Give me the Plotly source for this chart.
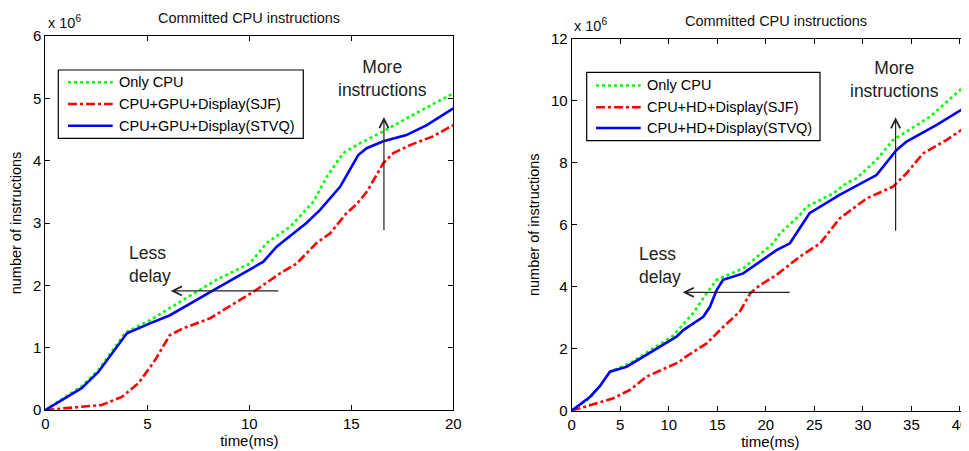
import plotly.graph_objects as go

W, H = 969, 451          # browser window
OFF = 8                  # default body margin of the page

# ---------------- data (values in units of 1e6 instructions) ----------------
# Left panel: CPU + GPU + Display
left_cpu_t = [0, 1.78, 2.6, 3.95, 4.1, 5.13, 6.78, 8.4, 10.03, 10.85, 12.0, 13.14, 13.8, 14.6, 15.26, 16.57, 17.88, 20]
left_cpu_v = [0, 0.38, 0.64, 1.25, 1.27, 1.44, 1.77, 2.09, 2.35, 2.68, 2.94, 3.34, 3.74, 4.12, 4.25, 4.47, 4.71, 5.08]

left_sjf_t = [0, 1.05, 1.86, 2.76, 3.75, 4.57, 5.38, 6.1, 6.76, 8.07, 10.36, 11.5, 12.32, 13.3, 13.95, 14.77, 15.26, 15.8, 16.57, 17.06, 17.88, 19.0, 20]
left_sjf_v = [0, 0.03, 0.05, 0.08, 0.21, 0.43, 0.8, 1.2, 1.31, 1.47, 1.93, 2.19, 2.35, 2.68, 2.83, 3.16, 3.3, 3.52, 3.96, 4.12, 4.25, 4.39, 4.57]

left_stvq_t = [0, 1.78, 2.6, 4.0, 5.13, 6.11, 8.4, 10.69, 11.34, 12.8, 13.47, 14.45, 15.34, 15.75, 16.57, 17.7, 18.7, 20]
left_stvq_v = [0, 0.35, 0.61, 1.23, 1.39, 1.52, 1.95, 2.38, 2.62, 3.0, 3.21, 3.58, 4.09, 4.2, 4.31, 4.41, 4.57, 4.84]

# Right panel: CPU + HD + Display
right_cpu_t = [0, 1.9, 2.92, 3.95, 6.0, 7.72, 10.46, 12.5, 13.9, 14.93, 16.0, 17.7, 20.76, 21.45, 23.5, 24.2, 26.95, 28.3, 29.36, 31.4, 33.1, 36.9, 40.93]
right_cpu_v = [0, 0.42, 0.8, 1.26, 1.53, 1.88, 2.42, 3.14, 3.79, 4.22, 4.36, 4.6, 5.4, 5.72, 6.31, 6.58, 7.01, 7.34, 7.5, 8.09, 8.73, 9.48, 10.6]

right_sjf_t = [0, 0.85, 4.28, 6.0, 7.72, 11.15, 11.5, 13.9, 15.6, 17.3, 18.4, 19.4, 21.1, 23.5, 25.6, 27.6, 30.4, 33.1, 34.5, 36.2, 38.6, 40.93]
right_sjf_v = [0, 0.08, 0.4, 0.67, 1.1, 1.58, 1.69, 2.17, 2.7, 3.19, 3.79, 4.05, 4.38, 4.97, 5.4, 6.2, 6.85, 7.23, 7.66, 8.3, 8.73, 9.22]

right_stvq_t = [0, 1.9, 2.92, 3.94, 5.66, 7.72, 10.8, 11.5, 13.55, 14.24, 14.93, 15.6, 17.67, 21.1, 22.48, 24.5, 27.6, 31.4, 33.47, 34.5, 37.6, 40.93]
right_stvq_v = [0, 0.45, 0.8, 1.26, 1.42, 1.82, 2.39, 2.6, 3.03, 3.35, 3.89, 4.22, 4.43, 5.18, 5.4, 6.37, 6.96, 7.6, 8.41, 8.68, 9.22, 9.86]

left_names = ["Only CPU", "CPU+GPU+Display(SJF)", "CPU+GPU+Display(STVQ)"]
right_names = ["Only CPU", "CPU+HD+Display(SJF)", "CPU+HD+Display(STVQ)"]

title_text = "Committed CPU instructions"
x_title = "time(ms)"
y_title = "number of instructions"
scale_text = "x 10<sup>6</sup>"

left_xticks = [0, 5, 10, 15, 20]
left_yticks = [0, 1, 2, 3, 4, 5, 6]
right_xticks = [0, 5, 10, 15, 20, 25, 30, 35, 40]
right_yticks = [0, 2, 4, 6, 8, 10, 12]

# ---------------- styles ----------------
FONT = "Liberation Sans, Arial, Helvetica, sans-serif"
GREEN, RED, BLUE = "#00ff00", "#ff0000", "#0000ff"
styles = [
    dict(color=GREEN, width=2.6, dash="3px,3px"),
    dict(color=RED, width=2.6, dash="9px,3px,3px,3px"),
    dict(color=BLUE, width=2.6, dash="solid"),
]

FW, FH = W - OFF, H - OFF


def px(x, y):
    """window pixel -> paper fraction"""
    return (x - OFF) / FW, 1 - (y - OFF) / FH


fig = go.Figure()

left_series = [(left_cpu_t, left_cpu_v), (left_sjf_t, left_sjf_v), (left_stvq_t, left_stvq_v)]
right_series = [(right_cpu_t, right_cpu_v), (right_sjf_t, right_sjf_v), (right_stvq_t, right_stvq_v)]

for (t, v), name, st in zip(left_series, left_names, styles):
    fig.add_trace(go.Scatter(x=t, y=v, name=name, mode="lines", line=st,
                             xaxis="x", yaxis="y", showlegend=False))
for (t, v), name, st in zip(right_series, right_names, styles):
    fig.add_trace(go.Scatter(x=t, y=v, name=name, mode="lines", line=st,
                             xaxis="x2", yaxis="y2", showlegend=False))

axis_common = dict(
    showgrid=False, zeroline=False, showline=True, linecolor="black", linewidth=1,
    ticks="inside", ticklen=5, tickcolor="black", tickwidth=1, automargin=False,
    tickfont=dict(family=FONT, size=15, color="black"),
)

lx0, _ = px(45.3, 0)
lx1, _ = px(453.3, 0)
rx0, _ = px(571.7, 0)
_, lyb = px(0, 410)
_, lyt = px(0, 36)
_, ryb = px(0, 410.7)
_, ryt = px(0, 38.7)

fig.update_layout(
    width=FW, height=FH,
    margin=dict(l=0, r=0, t=0, b=0, autoexpand=False),
    paper_bgcolor="white", plot_bgcolor="white",
    font=dict(family=FONT, color="black"),
    xaxis=dict(domain=[lx0, lx1], range=[0, 20], tickvals=left_xticks, mirror="ticks",
               anchor="y", title=dict(text=x_title, font=dict(size=15), standoff=2), **axis_common),
    yaxis=dict(domain=[lyb, lyt], range=[0, 6], tickvals=left_yticks, mirror="ticks",
               anchor="x", title=dict(text=y_title, font=dict(size=14.5), standoff=7), **axis_common),
    xaxis2=dict(domain=[rx0, 1.0], range=[0, 40.93], tickvals=right_xticks, mirror="ticks",
                anchor="y2", title=dict(text=x_title, font=dict(size=15), standoff=2), **axis_common),
    yaxis2=dict(domain=[ryb, ryt], range=[0, 12], tickvals=right_yticks, mirror=False,
                anchor="x2", title=dict(text=y_title, font=dict(size=14.5), standoff=7), **axis_common),
)

annotations = []
shapes = []

# titles and scale labels
for cx, cy in [(249, 18), (775.7, 21)]:
    x, y = px(cx, cy)
    annotations.append(dict(text=title_text, x=x, y=y, xref="paper", yref="paper",
                            xanchor="center", yanchor="middle",
                            showarrow=False, font=dict(size=14.5, family=FONT, color="#111")))
for lx_, ly_ in [(46, 22), (571.5, 25)]:
    x, y = px(lx_, ly_)
    annotations.append(dict(text=scale_text, x=x, y=y, xref="paper", yref="paper",
                            xanchor="left", yanchor="middle",
                            showarrow=False, font=dict(size=14.5, family=FONT, color="#111")))

# manual legends
legend_specs = [
    dict(box=(58.3, 70, 303.3, 138.3), line=(68, 112.7), text_x=117, rows=[82.3, 104, 125.7], names=left_names),
    dict(box=(586.7, 72.3, 820, 140.7), line=(596, 640.7), text_x=645, rows=[85.5, 107.3, 128], names=right_names),
]
for spec in legend_specs:
    x0, y0 = px(spec["box"][0], spec["box"][1])
    x1, y1 = px(spec["box"][2], spec["box"][3])
    shapes.append(dict(type="rect", xref="paper", yref="paper", x0=x0, y0=y1, x1=x1, y1=y0,
                       line=dict(color="black", width=1.2), fillcolor="white", layer="above"))
    for row, name, st in zip(spec["rows"], spec["names"], styles):
        a0, b0 = px(spec["line"][0], row)
        a1, _ = px(spec["line"][1], row)
        shapes.append(dict(type="line", xref="paper", yref="paper", x0=a0, y0=b0, x1=a1, y1=b0,
                           line=st, layer="above"))
        tx, ty = px(spec["text_x"], row)
        annotations.append(dict(text=name, x=tx, y=ty, xref="paper", yref="paper", xanchor="left",
                                yanchor="middle", showarrow=False,
                                font=dict(size=14.5, family=FONT, color="black")))

# arrows and texts (data coordinates)
ARROW = "#222222"
arrow_specs = [
    # (xref, yref, head_x, head_y, tail_x, tail_y)
    ("x", "y", 16.6, 4.70, 16.6, 2.86),
    ("x", "y", 6.15, 1.91, 11.5, 1.91),
    ("x2", "y2", 33.37, 9.47, 33.37, 5.76),
    ("x2", "y2", 11.43, 3.82, 22.6, 3.82),
]
for xr, yr, hx, hy, tx, ty in arrow_specs:
    annotations.append(dict(x=hx, y=hy, ax=tx, ay=ty, xref=xr, yref=yr, axref=xr, ayref=yr,
                            text="", showarrow=True, arrowhead=5, arrowsize=1.5, arrowwidth=1.2,
                            arrowcolor=ARROW, standoff=0))

text_specs = [
    ("x", "y", 16.55, 5.32, "More<br>instructions", "center"),
    ("x", "y", 4.0, 2.34, "Less<br>delay", "left"),
    ("x2", "y2", 33.3, 10.68, "More<br>instructions", "center"),
    ("x2", "y2", 6.7, 4.7, "Less<br>delay", "left"),
]
for xr, yr, x, y, txt, anc in text_specs:
    annotations.append(dict(x=x, y=y, xref=xr, yref=yr, text=txt, showarrow=False,
                            xanchor=anc, yanchor="middle", align=anc,
                            font=dict(size=17.5, family=FONT, color="#222")))

fig.update_layout(annotations=annotations, shapes=shapes)

fig.write_html("out.html")
